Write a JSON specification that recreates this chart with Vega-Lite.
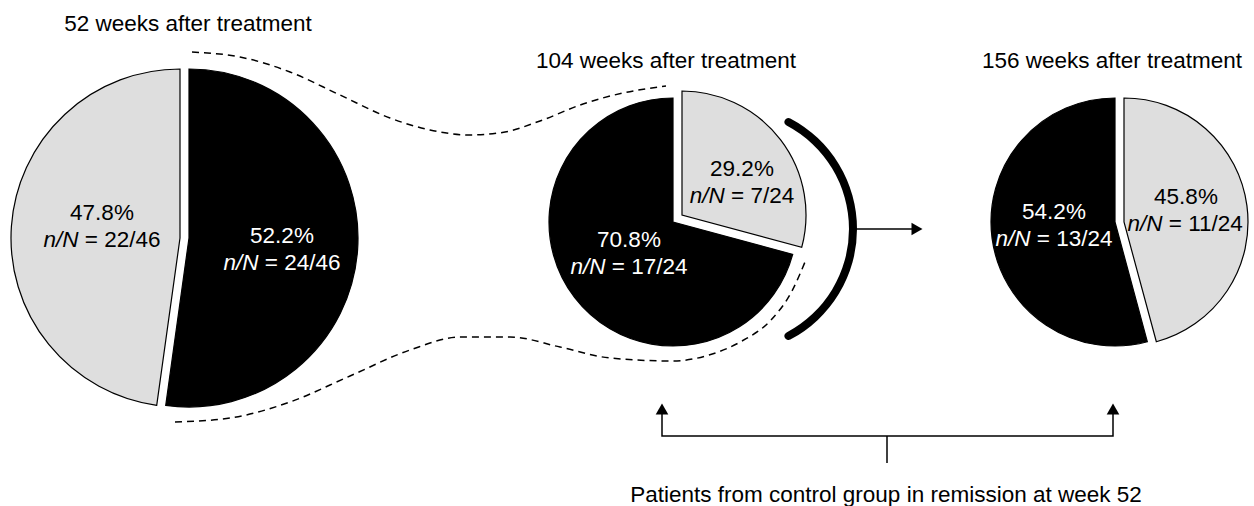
{
  "$schema": "https://vega.github.io/schema/vega-lite/v6.json",
  "width": 1254,
  "height": 506,
  "autosize": {"type": "none"},
  "padding": 0,
  "background": "white",
  "config": {"view": {"stroke": null}, "font": "Liberation Sans"},
  "datasets": {
    "slices": [
      {"pie": "52 weeks", "group": "remission", "start": 0, "end": 52.2, "x": 189, "y": 238},
      {"pie": "52 weeks", "group": "no remission", "start": 52.2, "end": 100, "x": 180, "y": 238},
      {"pie": "104 weeks", "group": "no remission", "start": 0, "end": 29.2, "x": 682, "y": 215},
      {"pie": "104 weeks", "group": "remission", "start": 29.2, "end": 100, "x": 673, "y": 222},
      {"pie": "156 weeks", "group": "no remission", "start": 0, "end": 45.8, "x": 1124, "y": 222},
      {"pie": "156 weeks", "group": "remission", "start": 45.8, "end": 100, "x": 1115, "y": 222}
    ],
    "bigarc": [{"x": 732, "y": 229, "start": 7.2, "end": 42.8}],
    "curves": [
      {"curve": "top", "seq": 1, "x": 192, "y": 52},
      {"curve": "top", "seq": 2, "x": 240, "y": 57},
      {"curve": "top", "seq": 3, "x": 290, "y": 72},
      {"curve": "top", "seq": 4, "x": 340, "y": 95},
      {"curve": "top", "seq": 5, "x": 390, "y": 118},
      {"curve": "top", "seq": 6, "x": 430, "y": 130},
      {"curve": "top", "seq": 7, "x": 470, "y": 135},
      {"curve": "top", "seq": 8, "x": 505, "y": 132},
      {"curve": "top", "seq": 9, "x": 540, "y": 121},
      {"curve": "top", "seq": 10, "x": 583, "y": 104},
      {"curve": "top", "seq": 11, "x": 623, "y": 93},
      {"curve": "top", "seq": 12, "x": 666, "y": 86},
      {"curve": "bottom", "seq": 1, "x": 175, "y": 422},
      {"curve": "bottom", "seq": 2, "x": 230, "y": 418},
      {"curve": "bottom", "seq": 3, "x": 290, "y": 402},
      {"curve": "bottom", "seq": 4, "x": 350, "y": 376},
      {"curve": "bottom", "seq": 5, "x": 410, "y": 350},
      {"curve": "bottom", "seq": 6, "x": 460, "y": 337},
      {"curve": "bottom", "seq": 7, "x": 510, "y": 337},
      {"curve": "bottom", "seq": 8, "x": 560, "y": 347},
      {"curve": "bottom", "seq": 9, "x": 610, "y": 358},
      {"curve": "bottom", "seq": 10, "x": 673, "y": 361},
      {"curve": "bottom", "seq": 11, "x": 709, "y": 355},
      {"curve": "bottom", "seq": 12, "x": 742, "y": 341},
      {"curve": "bottom", "seq": 13, "x": 771, "y": 320},
      {"curve": "bottom", "seq": 14, "x": 792, "y": 291},
      {"curve": "bottom", "seq": 15, "x": 805, "y": 262}
    ],
    "bracket": [
      {"seq": 1, "x": 662, "y": 412},
      {"seq": 2, "x": 662, "y": 436},
      {"seq": 3, "x": 1113, "y": 436},
      {"seq": 4, "x": 1113, "y": 412}
    ],
    "rules": [
      {"x": 853, "x2": 912, "y": 229, "y2": 229},
      {"x": 887, "x2": 887, "y": 436, "y2": 463}
    ],
    "heads": [
      {"x": 917, "y": 229, "shape": "triangle-right"},
      {"x": 662, "y": 409, "shape": "triangle-up"},
      {"x": 1113, "y": 409, "shape": "triangle-up"}
    ],
    "titles": [
      {"text": "52 weeks after treatment", "x": 188, "y": 31},
      {"text": "104 weeks after treatment", "x": 666, "y": 68},
      {"text": "156 weeks after treatment", "x": 1112, "y": 68},
      {"text": "Patients from control group in remission at week 52", "x": 886, "y": 502}
    ],
    "labels": [
      {"group": "no remission", "pct": "47.8%", "x": 102, "y1": 220, "bx": 78.5, "y2": 247, "rest": "= 22/46"},
      {"group": "remission", "pct": "52.2%", "x": 282, "y1": 243, "bx": 258.5, "y2": 270, "rest": "= 24/46"},
      {"group": "no remission", "pct": "29.2%", "x": 742, "y1": 176, "bx": 724.8, "y2": 203, "rest": "= 7/24"},
      {"group": "remission", "pct": "70.8%", "x": 629, "y1": 247, "bx": 605.5, "y2": 274, "rest": "= 17/24"},
      {"group": "remission", "pct": "54.2%", "x": 1054, "y1": 219, "bx": 1030.5, "y2": 246, "rest": "= 13/24"},
      {"group": "no remission", "pct": "45.8%", "x": 1186, "y1": 204, "bx": 1162.5, "y2": 231, "rest": "= 11/24"}
    ]
  },
  "layer": [
    {
      "data": {"name": "curves"},
      "mark": {"type": "line", "interpolate": "monotone", "strokeDash": [7, 5], "strokeWidth": 1.5, "color": "black"},
      "encoding": {
        "x": {"field": "x", "type": "quantitative", "scale": {"domain": [0, 1254], "range": [0, 1254]}, "axis": null},
        "y": {"field": "y", "type": "quantitative", "scale": {"domain": [0, 506], "range": [0, 506]}, "axis": null},
        "detail": {"field": "curve"},
        "order": {"field": "seq", "type": "quantitative"}
      }
    },
    {
      "data": {"name": "slices"},
      "transform": [{"filter": "datum.pie == '52 weeks'"}],
      "mark": {"type": "arc", "outerRadius": 169, "innerRadius": 0, "stroke": "black", "strokeWidth": 1.2},
      "encoding": {
        "x": {"field": "x", "type": "quantitative", "scale": {"domain": [0, 1254], "range": [0, 1254]}, "axis": null},
        "y": {"field": "y", "type": "quantitative", "scale": {"domain": [0, 506], "range": [0, 506]}, "axis": null},
        "theta": {"field": "start", "type": "quantitative", "scale": {"domain": [0, 100], "range": [0, 6.283185307]}, "stack": null},
        "theta2": {"field": "end"},
        "color": {"field": "group", "type": "nominal", "scale": {"domain": ["remission", "no remission"], "range": ["#000000", "#dedede"]}, "legend": null}
      }
    },
    {
      "data": {"name": "slices"},
      "transform": [{"filter": "datum.pie != '52 weeks'"}],
      "mark": {"type": "arc", "outerRadius": 124, "innerRadius": 0, "stroke": "black", "strokeWidth": 1.2},
      "encoding": {
        "x": {"field": "x", "type": "quantitative", "scale": {"domain": [0, 1254], "range": [0, 1254]}, "axis": null},
        "y": {"field": "y", "type": "quantitative", "scale": {"domain": [0, 506], "range": [0, 506]}, "axis": null},
        "theta": {"field": "start", "type": "quantitative", "scale": {"domain": [0, 100], "range": [0, 6.283185307]}, "stack": null},
        "theta2": {"field": "end"},
        "color": {"field": "group", "type": "nominal", "scale": {"domain": ["remission", "no remission"], "range": ["#000000", "#dedede"]}, "legend": null}
      }
    },
    {
      "data": {"name": "bigarc"},
      "mark": {"type": "arc", "outerRadius": 125, "innerRadius": 117, "cornerRadius": 4, "color": "black"},
      "encoding": {
        "x": {"field": "x", "type": "quantitative", "scale": {"domain": [0, 1254], "range": [0, 1254]}, "axis": null},
        "y": {"field": "y", "type": "quantitative", "scale": {"domain": [0, 506], "range": [0, 506]}, "axis": null},
        "theta": {"field": "start", "type": "quantitative", "scale": {"domain": [0, 100], "range": [0, 6.283185307]}, "stack": null},
        "theta2": {"field": "end"}
      }
    },
    {
      "data": {"name": "bracket"},
      "mark": {"type": "line", "strokeWidth": 1.5, "color": "black"},
      "encoding": {
        "x": {"field": "x", "type": "quantitative", "scale": {"domain": [0, 1254], "range": [0, 1254]}, "axis": null},
        "y": {"field": "y", "type": "quantitative", "scale": {"domain": [0, 506], "range": [0, 506]}, "axis": null},
        "order": {"field": "seq", "type": "quantitative"}
      }
    },
    {
      "data": {"name": "rules"},
      "mark": {"type": "rule", "strokeWidth": 1.5, "color": "black"},
      "encoding": {
        "x": {"field": "x", "type": "quantitative", "scale": {"domain": [0, 1254], "range": [0, 1254]}, "axis": null},
        "x2": {"field": "x2"},
        "y": {"field": "y", "type": "quantitative", "scale": {"domain": [0, 506], "range": [0, 506]}, "axis": null},
        "y2": {"field": "y2"}
      }
    },
    {
      "data": {"name": "heads"},
      "mark": {"type": "point", "filled": true, "size": 160, "color": "black", "opacity": 1},
      "encoding": {
        "x": {"field": "x", "type": "quantitative", "scale": {"domain": [0, 1254], "range": [0, 1254]}, "axis": null},
        "y": {"field": "y", "type": "quantitative", "scale": {"domain": [0, 506], "range": [0, 506]}, "axis": null},
        "shape": {"field": "shape", "type": "nominal", "scale": null}
      }
    },
    {
      "data": {"name": "titles"},
      "mark": {"type": "text", "fontSize": 22.5, "align": "center", "baseline": "alphabetic", "color": "black", "font": "Liberation Sans"},
      "encoding": {
        "x": {"field": "x", "type": "quantitative", "scale": {"domain": [0, 1254], "range": [0, 1254]}, "axis": null},
        "y": {"field": "y", "type": "quantitative", "scale": {"domain": [0, 506], "range": [0, 506]}, "axis": null},
        "text": {"field": "text"}
      }
    },
    {
      "data": {"name": "labels"},
      "mark": {"type": "text", "fontSize": 22.5, "align": "center", "baseline": "alphabetic", "font": "Liberation Sans"},
      "encoding": {
        "x": {"field": "x", "type": "quantitative", "scale": {"domain": [0, 1254], "range": [0, 1254]}, "axis": null},
        "y": {"field": "y1", "type": "quantitative", "scale": {"domain": [0, 506], "range": [0, 506]}, "axis": null},
        "text": {"field": "pct"},
        "fill": {"field": "group", "type": "nominal", "scale": {"domain": ["remission", "no remission"], "range": ["#ffffff", "#000000"]}, "legend": null}
      }
    },
    {
      "data": {"name": "labels"},
      "mark": {"type": "text", "fontSize": 22.5, "align": "right", "baseline": "alphabetic", "fontStyle": "italic", "font": "Liberation Sans"},
      "encoding": {
        "x": {"field": "bx", "type": "quantitative", "scale": {"domain": [0, 1254], "range": [0, 1254]}, "axis": null},
        "y": {"field": "y2", "type": "quantitative", "scale": {"domain": [0, 506], "range": [0, 506]}, "axis": null},
        "text": {"value": "n/N"},
        "fill": {"field": "group", "type": "nominal", "scale": {"domain": ["remission", "no remission"], "range": ["#ffffff", "#000000"]}, "legend": null}
      }
    },
    {
      "data": {"name": "labels"},
      "mark": {"type": "text", "fontSize": 22.5, "align": "left", "baseline": "alphabetic", "dx": 6.3, "font": "Liberation Sans"},
      "encoding": {
        "x": {"field": "bx", "type": "quantitative", "scale": {"domain": [0, 1254], "range": [0, 1254]}, "axis": null},
        "y": {"field": "y2", "type": "quantitative", "scale": {"domain": [0, 506], "range": [0, 506]}, "axis": null},
        "text": {"field": "rest"},
        "fill": {"field": "group", "type": "nominal", "scale": {"domain": ["remission", "no remission"], "range": ["#ffffff", "#000000"]}, "legend": null}
      }
    }
  ]
}
